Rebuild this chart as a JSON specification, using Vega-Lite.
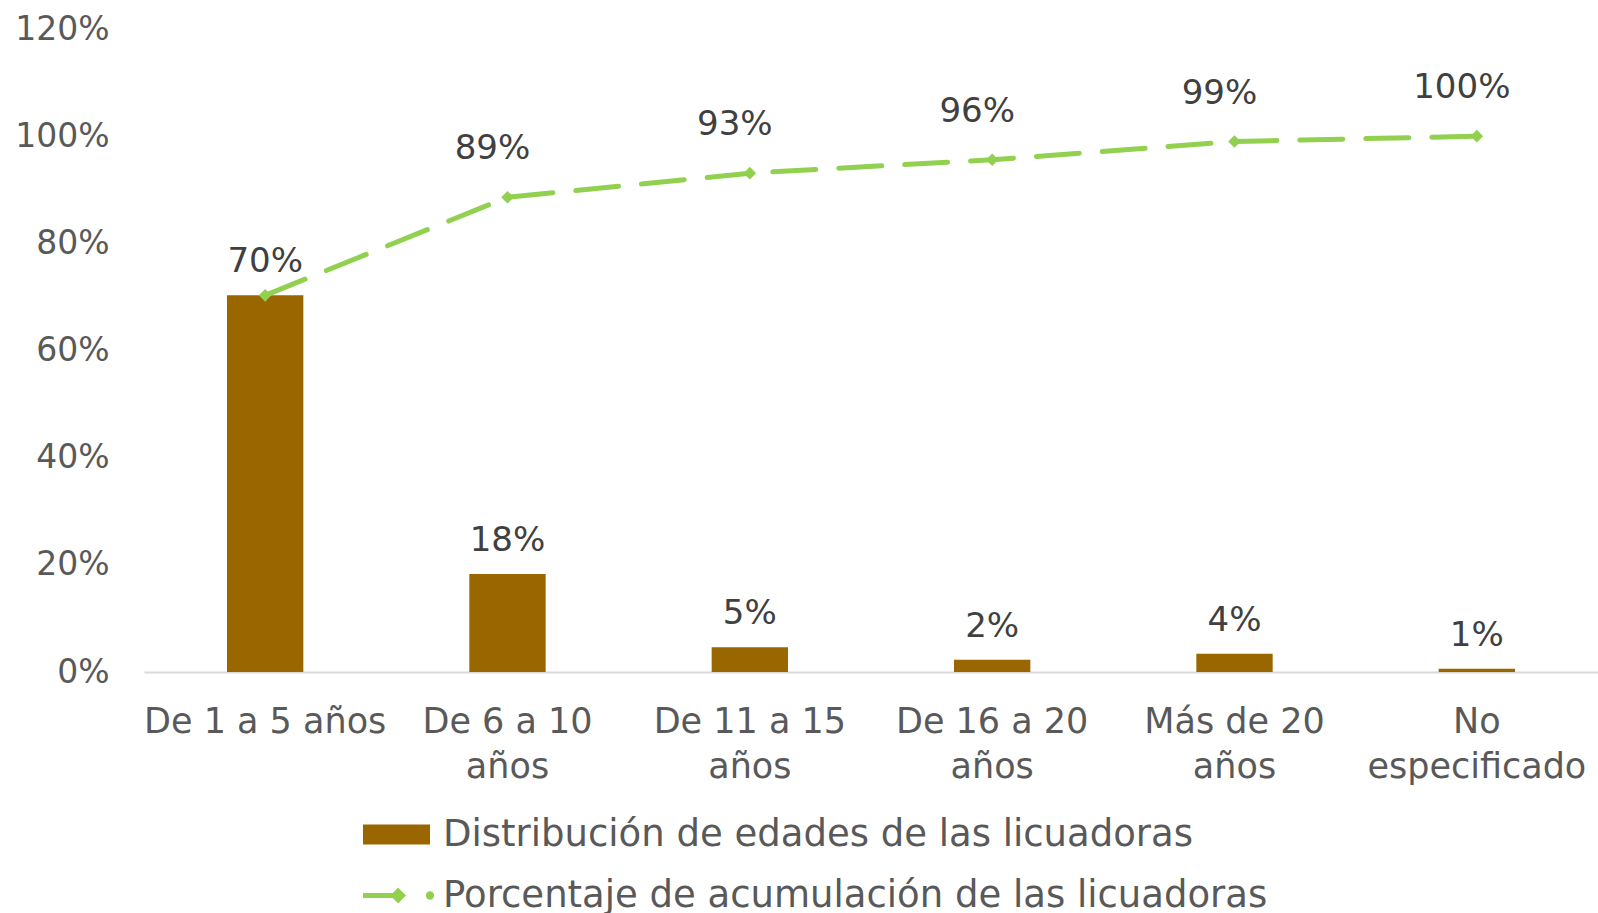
{
  "$schema": "https://vega.github.io/schema/vega-lite/v6.json",
  "width": 1454,
  "height": 643,
  "autosize": {"type": "none"},
  "padding": {"left": 144, "top": 29, "right": 0, "bottom": 241},
  "config": {"view": {"stroke": null}, "font": "DejaVu Sans"},
  "data": {
    "values": [
      {"cat": "De 1 a 5 años", "dist": 0.703, "distLabel": "70%", "cum": 0.703, "cumLabel": "70%", "serieB": "Distribución de edades de las licuadoras", "serieL": "Porcentaje de acumulación de las licuadoras"},
      {"cat": "De 6 a 10|años", "dist": 0.183, "distLabel": "18%", "cum": 0.886, "cumLabel": "89%", "serieB": "Distribución de edades de las licuadoras", "serieL": "Porcentaje de acumulación de las licuadoras"},
      {"cat": "De 11 a 15|años", "dist": 0.046, "distLabel": "5%", "cum": 0.931, "cumLabel": "93%", "serieB": "Distribución de edades de las licuadoras", "serieL": "Porcentaje de acumulación de las licuadoras"},
      {"cat": "De 16 a 20|años", "dist": 0.023, "distLabel": "2%", "cum": 0.956, "cumLabel": "96%", "serieB": "Distribución de edades de las licuadoras", "serieL": "Porcentaje de acumulación de las licuadoras"},
      {"cat": "Más de 20|años", "dist": 0.034, "distLabel": "4%", "cum": 0.99, "cumLabel": "99%", "serieB": "Distribución de edades de las licuadoras", "serieL": "Porcentaje de acumulación de las licuadoras"},
      {"cat": "No|especificado", "dist": 0.006, "distLabel": "1%", "cum": 1.0, "cumLabel": "100%", "serieB": "Distribución de edades de las licuadoras", "serieL": "Porcentaje de acumulación de las licuadoras"}
    ]
  },
  "encoding": {
    "x": {
      "field": "cat",
      "type": "nominal",
      "sort": null,
      "scale": {"paddingInner": 0.685, "paddingOuter": 0.3425},
      "axis": {
        "title": null,
        "labelAngle": 0,
        "labelExpr": "split(datum.value, '|')",
        "labelFontSize": 35,
        "labelColor": "#595959",
        "labelPadding": 32,
        "labelLineHeight": 45,
        "labelLimit": 400,
        "ticks": false,
        "domain": true,
        "domainColor": "#d9d9d9",
        "domainWidth": 2
      }
    }
  },
  "layer": [
    {
      "mark": {"type": "bar"},
      "encoding": {
        "y": {
          "field": "dist",
          "type": "quantitative",
          "scale": {"domain": [0, 1.2]},
          "axis": {
            "title": null,
            "format": ".0%",
            "values": [0, 0.2, 0.4, 0.6, 0.8, 1.0, 1.2],
            "grid": false,
            "domain": false,
            "ticks": false,
            "labelFontSize": 33,
            "labelColor": "#595959",
            "labelPadding": 35
          }
        },
        "color": {
          "field": "serieB",
          "type": "nominal",
          "scale": {
            "domain": ["Distribución de edades de las licuadoras", "Porcentaje de acumulación de las licuadoras"],
            "range": ["#996600", "#92D050"]
          },
          "legend": {
            "title": null,
            "orient": "none",
            "legendX": 234,
            "legendY": 787,
            "direction": "vertical",
            "labelFontSize": 37,
            "labelColor": "#595959",
            "labelLimit": 1200,
            "labelOffset": 28,
            "rowPadding": 23,
            "symbolSize": 4489,
            "encode": {
              "symbols": {
                "update": {
                  "shape": {"signal": "datum.value == 'Distribución de edades de las licuadoras' ? 'M-1,-0.3H1V0.3H-1Z' : 'M-1,0H0.05M0.05,-0.13L0.18,0L0.05,0.13L-0.08,0ZM0.95,0a0.05,0.05 0 1,0 0.1,0a0.05,0.05 0 1,0 -0.1,0Z'"},
                  "fill": {"signal": "datum.value == 'Distribución de edades de las licuadoras' ? '#996600' : '#92D050'"},
                  "stroke": {"signal": "datum.value == 'Distribución de edades de las licuadoras' ? null : '#92D050'"},
                  "strokeWidth": {"signal": "datum.value == 'Distribución de edades de las licuadoras' ? 0 : 5"},
                  "opacity": {"value": 1},
                  "fillOpacity": {"value": 1}
                }
              }
            }
          }
        }
      }
    },
    {
      "mark": {"type": "text", "fontSize": 34, "color": "#404040", "baseline": "alphabetic", "dy": -23},
      "encoding": {
        "y": {"field": "dist", "type": "quantitative"},
        "text": {"field": "distLabel"}
      }
    },
    {
      "mark": {
        "type": "line",
        "strokeWidth": 5,
        "strokeDash": [43, 23],
        "strokeCap": "round",
        "point": {"shape": "diamond", "size": 160, "filled": true, "color": "#92D050"}
      },
      "encoding": {
        "y": {"field": "cum", "type": "quantitative"},
        "color": {"field": "serieL", "type": "nominal"}
      }
    },
    {
      "transform": [{"filter": "datum.cat != 'De 1 a 5 años'"}],
      "mark": {"type": "text", "fontSize": 34, "color": "#404040", "baseline": "alphabetic", "dy": -38, "dx": -15},
      "encoding": {
        "y": {"field": "cum", "type": "quantitative"},
        "text": {"field": "cumLabel"}
      }
    }
  ]
}
